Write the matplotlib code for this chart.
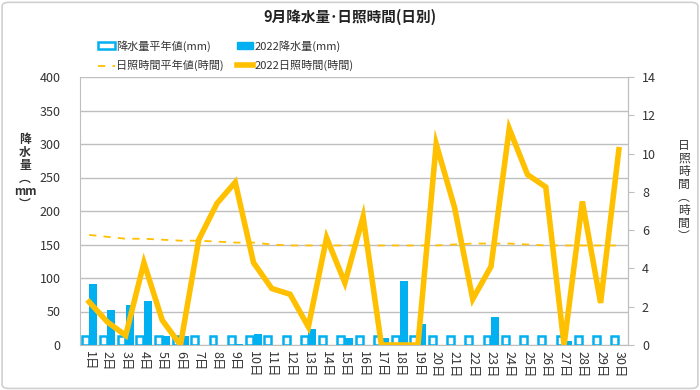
import matplotlib
matplotlib.use("Agg")
import matplotlib.pyplot as plt
from matplotlib.patches import Patch, FancyBboxPatch
from matplotlib.lines import Line2D
import numpy as np

plt.rcParams['font.family'] = ['Noto Sans CJK JP', 'DejaVu Sans']

days = [f"{i}日" for i in range(1, 31)]
rain_normal = [13] * 30
rain_2022 = [91, 52, 59, 65, 14, 13, 0, 0, 1, 17, 0, 0, 24, 0, 10, 0, 11, 95, 32, 0,
             0, 0, 42, 0, 0, 0, 6, 0, 0, 0]
sun_normal = [5.75, 5.65, 5.55, 5.55, 5.5, 5.45, 5.45, 5.4, 5.35, 5.35, 5.25, 5.2, 5.2, 5.2, 5.2,
              5.2, 5.2, 5.2, 5.2, 5.2, 5.25, 5.3, 5.3, 5.3, 5.25, 5.2, 5.2, 5.2, 5.2, 5.2]
sun_2022 = [2.25, 1.2, 0.5, 4.3, 1.3, 0.0, 5.5, 7.4, 8.5, 4.3, 2.95, 2.65, 0.95, 5.6, 3.25,
            6.7, 0.0, 0.0, 0.0, 10.5, 7.2, 2.4, 4.1, 11.3, 8.9, 8.25, 0.0, 7.5, 2.2, 10.2]

BLUE = '#00B0F0'
GOLD = '#FFC000'
GRID = '#BFBFBF'

fig = plt.figure(figsize=(7, 3.9), dpi=100)
border = FancyBboxPatch((0.003, 0.004), 0.994, 0.99, boxstyle="round,pad=0,rounding_size=0.01",
                        transform=fig.transFigure, facecolor='none', edgecolor='#D0D0D0', lw=1.2, zorder=10)
fig.patches.append(border)

ax = fig.add_axes([80/700, 1-345/390, 548/700, 268/390])
x = np.arange(30)
w = 0.38
ax.bar(x - 0.22, rain_normal, width=w, facecolor='white', edgecolor=BLUE, linewidth=1.8, zorder=3)
ax.bar(x + 0.22, rain_2022, width=w + 0.06, color=BLUE, zorder=3)
ax.set_ylim(0, 400)
ax.set_xlim(-0.5, 29.5)
ax.set_yticks(range(0, 401, 50))
ax.yaxis.grid(True, color=GRID, lw=1)
ax.set_axisbelow(True)
ax.set_xticks(x)
ax.set_xticklabels(days, rotation=-90, fontsize=9, color='#333333')
ax.tick_params(axis='x', length=0, pad=4)
ax.tick_params(axis='y', length=0, labelsize=9, colors='#333333', pad=14)
ax.spines['top'].set_visible(False)
for s in ['left', 'right', 'bottom']:
    ax.spines[s].set_color(GRID)

ax2 = ax.twinx()
ax2.plot(x, sun_normal, color=GOLD, lw=1.3, ls=(0, (4, 4)), zorder=4)
ax2.plot(x, sun_2022, color=GOLD, lw=4, solid_joinstyle='miter', zorder=5)
ax2.set_ylim(0, 14)
ax2.set_yticks(range(0, 15, 2))
ax2.tick_params(axis='y', length=4, color=GRID, labelsize=9, labelcolor='#333333', pad=6)
for s in ['top', 'left', 'bottom']:
    ax2.spines[s].set_visible(False)
ax2.spines['right'].set_color(GRID)

fig.text(350/700, 1-17/390, '9月降水量･日照時間(日別)', ha='center', va='center', fontsize=10.5, fontweight='bold', color='#222222')

fig.text(25/700, 1-172/390, '\n'.join(['降', '水', '量', '︵', 'mm', '︶']), ha='center', va='center',
         fontsize=8.5, fontweight='bold', color='#333333', linespacing=1.0)
fig.text(684/700, 1-191/390, '\n'.join(['日', '照', '時', '間', '︵', '時', '間', '︶']), ha='center', va='center',
         fontsize=8.5, color='#333333', linespacing=1.0)

h1 = Patch(facecolor='white', edgecolor=BLUE, lw=1.8)
h2 = Patch(facecolor=BLUE, edgecolor=BLUE)
h3 = Line2D([], [], color=GOLD, lw=1.3, ls=(0, (4, 4)))
h4 = Line2D([], [], color=GOLD, lw=4)
fig.legend([h1, h3, h2, h4],
           ['降水量平年値(mm)', '日照時間平年値(時間)', '2022降水量(mm)', '2022日照時間(時間)'],
           ncol=2, loc='upper left', bbox_to_anchor=(88/700, 1-30/390), frameon=False,
           fontsize=8, handlelength=1.5, handleheight=0.6, handletextpad=0.1, columnspacing=1.2,
           labelspacing=0.75, labelcolor='#333333')

fig.savefig('out.png', dpi=100)
